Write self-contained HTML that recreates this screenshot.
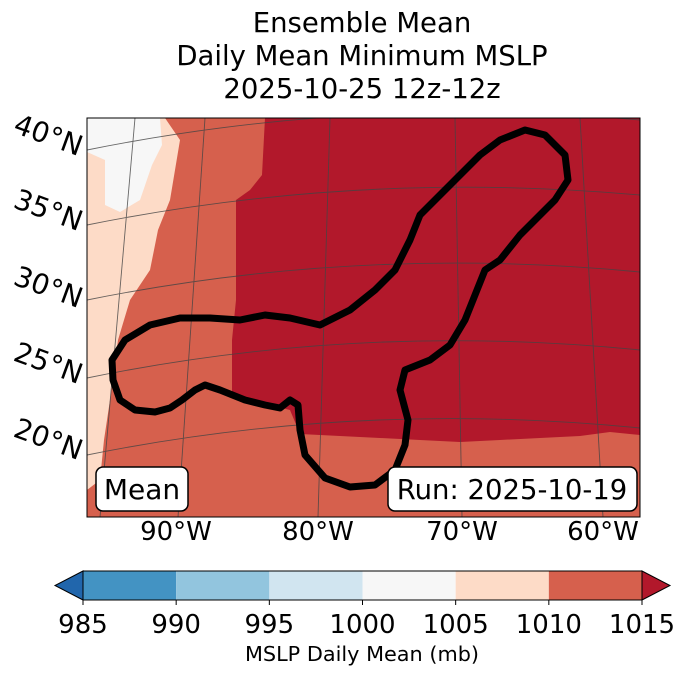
<!DOCTYPE html>
<html><head><meta charset="utf-8"><style>
body{margin:0;background:#fff;width:688px;height:674px;overflow:hidden;font-family:"DejaVu Sans","Liberation Sans",sans-serif}
svg{display:block}
text{font-family:"DejaVu Sans","Liberation Sans",sans-serif}
</style></head><body>
<svg id="s" width="688" height="674" viewBox="0 0 688 674">
<g font-size="27.5" text-anchor="middle" fill="#000">
<text x="362" y="32">Ensemble Mean</text>
<text x="362" y="65">Daily Mean Minimum MSLP</text>
<text x="362" y="98">2025-10-25 12z-12z</text>
</g>
<defs><clipPath id="mc"><rect x="87" y="118" width="553" height="399"/></clipPath></defs>
<g clip-path="url(#mc)">
<rect x="87" y="118" width="553" height="399" fill="#d6604d"/>
<polygon fill="#b2182b" points="265,118 640,118 640,435 610,432 580,436 540,438 500,440 460,442 420,440 380,438 340,436 300,434 290,410 232,395 232,340 236,300 236,200 250,190 262,175"/>
<polygon fill="#fddbc7" points="87,118 165,118 180,140 170,200 158,230 150,270 130,300 118,340 110,400 104,440 100,480 87,490"/>
<polygon fill="#f7f7f7" points="87,118 160,118 162,145 152,165 140,200 120,212 105,205 105,160 87,152"/>
<g stroke="#444" stroke-width="0.9" fill="none" opacity="0.8">
<path d="M87,150 Q360,95 640,120"/>
<path d="M87,225 Q360,170 640,195"/>
<path d="M87,300 Q360,245 640,272"/>
<path d="M87,378 Q360,322 640,350"/>
<path d="M87,455 Q360,400 640,428"/>
<path d="M178,517 L205,118"/>
<path d="M318,517 L330,118"/>
<path d="M462,517 L455,118"/>
<path d="M603,517 L580,118"/>
<path d="M100,517 L135,118"/>
</g>
<path fill="none" stroke="#000" stroke-width="7" stroke-linejoin="round" d="M113,380 L112,360 L125,340 L150,325 L180,318 L210,318 L240,320 L265,315 L290,318 L320,325 L350,310 L375,290 L395,270 L410,240 L420,215 L440,195 L460,175 L480,155 L500,140 L525,130 L545,135 L565,155 L568,180 L555,200 L540,215 L520,235 L500,260 L485,270 L475,295 L465,320 L450,345 L430,360 L405,370 L400,390 L408,420 L405,445 L395,470 L375,485 L350,487 L325,478 L305,455 L300,430 L298,405 L290,400 L280,408 L265,405 L245,400 L220,390 L205,385 L195,390 L182,400 L170,408 L155,412 L135,410 L120,400 Z"/>
</g>
<rect x="87" y="118" width="553" height="399" fill="none" stroke="#000" stroke-width="1"/>
<g font-size="28" fill="#000">
<text transform="translate(12,132) rotate(20)">40°N</text>
<text transform="translate(12,207) rotate(20)">35°N</text>
<text transform="translate(12,284) rotate(20)">30°N</text>
<text transform="translate(12,360) rotate(20)">25°N</text>
<text transform="translate(12,436) rotate(20)">20°N</text>
</g>
<g font-size="26" text-anchor="middle" fill="#000">
<text x="176" y="540">90°W</text><text x="318" y="540">80°W</text><text x="462" y="540">70°W</text><text x="603" y="540">60°W</text>
</g>
<g>
<rect x="96" y="467" width="92" height="44" rx="7" fill="#fff" stroke="#000" stroke-width="1.5"/>
<text x="142" y="499" font-size="28" text-anchor="middle">Mean</text></g>
<g>
<rect x="388" y="467" width="249" height="44" rx="7" fill="#fff" stroke="#000" stroke-width="1.5"/>
<text x="512" y="499" font-size="27.5" text-anchor="middle">Run: 2025-10-19</text></g>
<g id="cb"></g>
<text x="362" y="661" font-size="20.8" text-anchor="middle">MSLP Daily Mean (mb)</text>
</svg>
<script>
const levels=[985,990,995,1000,1005,1010,1015];
const colors=["#4393c3","#92c5de","#d1e5f0","#f7f7f7","#fddbc7","#d6604d"];
const x0=83,x1=642,y0=571,y1=600;
const sx=v=>x0+(v-levels[0])/(levels[levels.length-1]-levels[0])*(x1-x0);
const g=document.getElementById('cb');const ns="http://www.w3.org/2000/svg";
function mk(t,a){const e=document.createElementNS(ns,t);for(const k in a)e.setAttribute(k,a[k]);g.appendChild(e);return e;}
let l=mk('polygon',{points:`${x0},${y0} ${x0},${y1} 55,${(y0+y1)/2}`,fill:'#2166ac',stroke:'#000','stroke-width':1});


let r=mk('polygon',{points:`${x1},${y0} ${x1},${y1} 670,${(y0+y1)/2}`,fill:'#b2182b',stroke:'#000','stroke-width':1});


for(let i=0;i<colors.length;i++){
 const e=mk('rect',{x:sx(levels[i]),y:y0,width:sx(levels[i+1])-sx(levels[i]),height:y1-y0,fill:colors[i]});
 
 
}
mk('rect',{x:x0,y:y0,width:x1-x0,height:y1-y0,fill:'none',stroke:'#000','stroke-width':1});
levels.forEach(v=>{
 mk('line',{x1:sx(v),x2:sx(v),y1:y1,y2:y1+5,stroke:'#000'});
 const t=mk('text',{x:sx(v),y:633,'font-size':26,'text-anchor':'middle'});t.textContent=v;
 
 
});
</script>
</body></html>
